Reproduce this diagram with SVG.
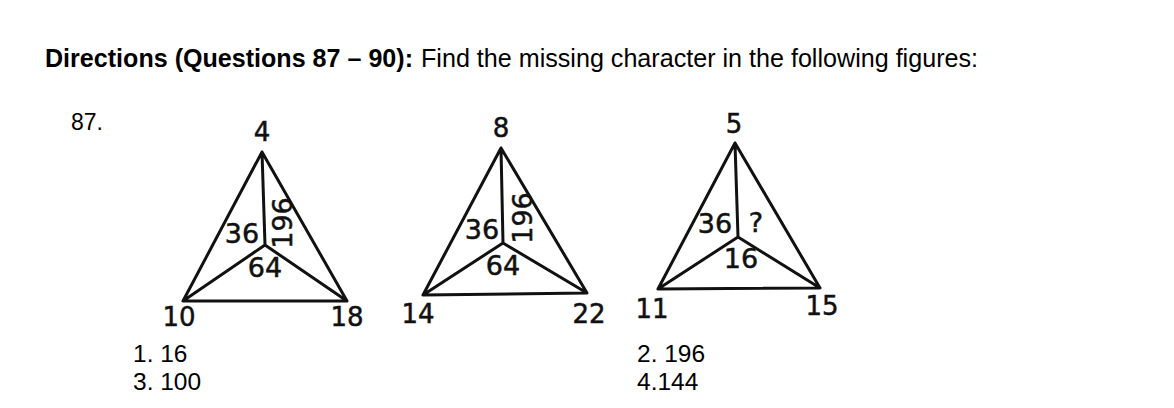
<svg xmlns="http://www.w3.org/2000/svg" width="1174" height="408" viewBox="0 0 1174 408">
  <style>
    .hdr { font-family: "Liberation Sans", Arial, sans-serif; font-size: 25px; fill: #000; }
    .b { font-weight: bold; }
    .ans { font-family: "Liberation Sans", Arial, sans-serif; font-size: 24.5px; fill: #000; }
    .ln { fill: none; stroke: #111; stroke-width: 3; stroke-linejoin: round; stroke-linecap: round; }
    .lbl { font-family: "DejaVu Sans", sans-serif; font-size: 26px; fill: #111; stroke: #111; stroke-width: 0.5; text-anchor: middle; }
    .in { font-size: 27px; }
  </style>
  <rect width="1174" height="408" fill="#fff"/>

  <g id="header">
    <text class="hdr b" x="45" y="67" textLength="368" lengthAdjust="spacingAndGlyphs">Directions (Questions 87 – 90):</text>
    <text class="hdr" x="421" y="67" textLength="557" lengthAdjust="spacingAndGlyphs">Find the missing character in the following figures:</text>
  </g>
  <g id="qnum">
    <text class="hdr" x="71" y="130" style="font-size:23px">87.</text>
  </g>

  <g id="figure1">
    <path class="ln" d="M262,152 L183,301 L347,301 Z M265,245 L262,152 M265,245 L183,301 M265,245 L347,301"/>
    <text class="lbl" x="262" y="141">4</text>
    <text class="lbl in" x="242" y="243">36</text>
    <text class="lbl in" transform="translate(282,223) rotate(-90)" x="0" y="10">196</text>
    <text class="lbl in" x="265" y="277">64</text>
    <text class="lbl" x="179" y="326">10</text>
    <text class="lbl" x="347" y="326">18</text>
  </g>

  <g id="figure2">
    <path class="ln" d="M501,148 L423,295 L587,293 Z M503,243 L501,148 M503,243 L423,295 M503,243 L587,293"/>
    <text class="lbl" x="501" y="137">8</text>
    <text class="lbl in" x="482" y="239">36</text>
    <text class="lbl in" transform="translate(522,218) rotate(-90)" x="0" y="10">196</text>
    <text class="lbl in" x="503" y="275">64</text>
    <text class="lbl" x="418" y="323">14</text>
    <text class="lbl" x="589" y="323">22</text>
  </g>

  <g id="figure3">
    <path class="ln" d="M735,143 L658,289 L820,288 Z M738,237 L735,143 M738,237 L658,289 M738,237 L820,288"/>
    <text class="lbl" x="734" y="133">5</text>
    <text class="lbl in" x="715" y="233">36</text>
    <text class="lbl in" x="756" y="232">?</text>
    <text class="lbl in" x="741" y="268">16</text>
    <text class="lbl" x="652" y="318">11</text>
    <text class="lbl" x="822" y="315">15</text>
  </g>

  <g id="options">
    <text class="ans" x="133" y="362">1. 16</text>
    <text class="ans" x="133" y="390">3. 100</text>
    <text class="ans" x="637" y="362">2. 196</text>
    <text class="ans" x="637" y="390">4.144</text>
  </g>
</svg>
